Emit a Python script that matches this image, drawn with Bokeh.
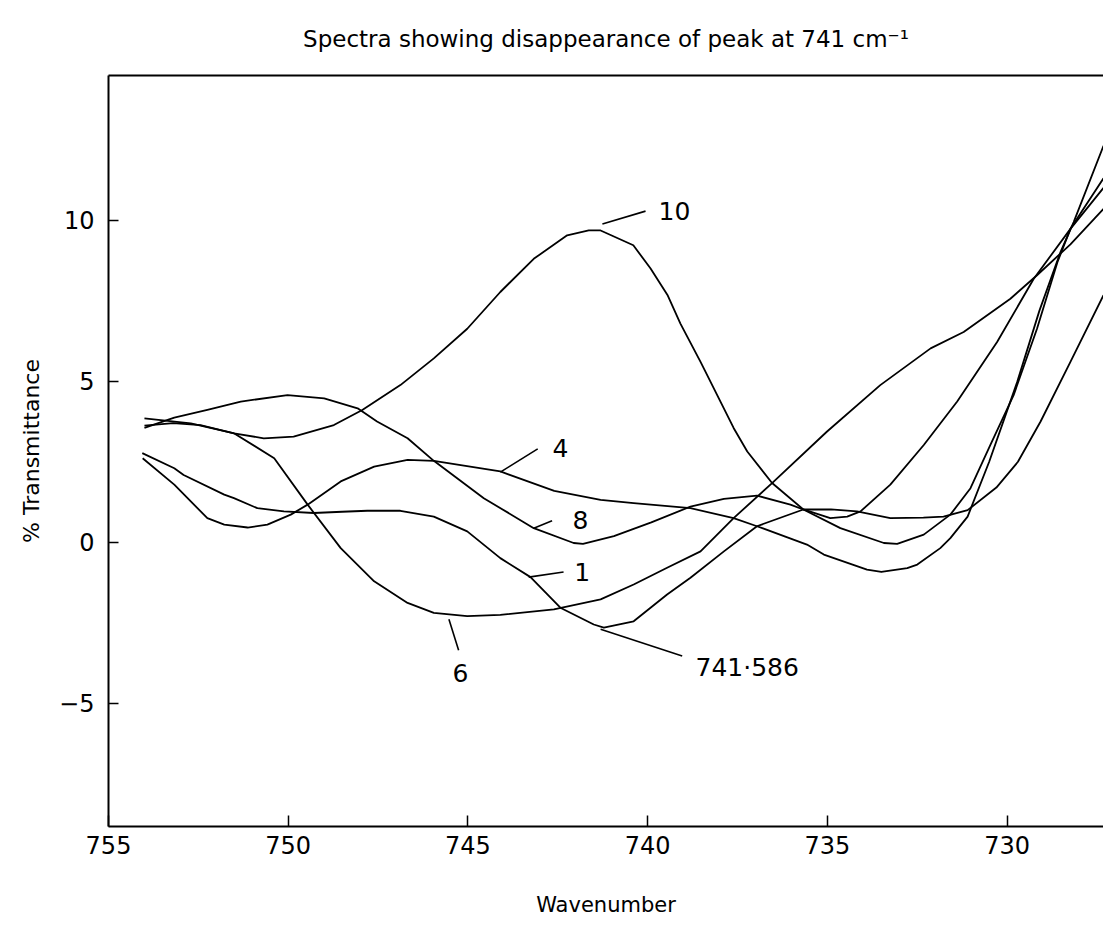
from bokeh.plotting import figure
from bokeh.models import Range1d, LinearAxis, FixedTicker
from bokeh.core.properties import value
from bokeh.embed import file_html
from bokeh.resources import INLINE

FONT = "DejaVu Sans"

# ---- data (wavenumber, % transmittance) ----
wn_1 = [754.06, 753.17, 752.91, 751.78, 751.51, 750.86, 750.12, 749.29, 748.5, 747.80, 746.88,
        745.95, 745.02, 744.10, 743.26, 742.43, 741.5, 741.22, 740.39, 739.46, 738.81, 737.88,
        736.96, 735.67, 734.9, 734.18, 733.25, 732.33, 731.77, 731.1, 730.3, 729.7, 729.07,
        728.24, 727.32]
t_1 = [2.77, 2.30, 2.09, 1.48, 1.37, 1.06, 0.96, 0.91, 0.95, 0.98, 0.98,
       0.80, 0.34, -0.49, -1.08, -2.03, -2.55, -2.65, -2.45, -1.62, -1.10, -0.28,
       0.50, 1.02, 1.02, 0.96, 0.75, 0.77, 0.80, 1.0, 1.7, 2.5, 3.75,
       5.6, 7.67]

wn_4 = [754.05, 753.17, 752.25, 751.78, 751.13, 750.58, 749.93, 749.46, 748.54, 747.61, 746.68,
        745.95, 744.10, 742.6, 741.31, 740.39, 738.81, 737.61, 736.96, 735.57, 735.1, 733.9,
        733.5, 732.78, 732.5, 731.86, 731.58, 731.1, 730.5, 729.72, 729.1, 728.52, 728.15, 727.32]
t_4 = [2.61, 1.79, 0.75, 0.55, 0.46, 0.55, 0.86, 1.17, 1.89, 2.35, 2.56,
       2.53, 2.2, 1.6, 1.32, 1.22, 1.06, 0.75, 0.50, -0.07, -0.38, -0.85,
       -0.92, -0.80, -0.69, -0.18, 0.13, 0.8, 2.5, 4.98, 7.2, 9.0, 9.94, 12.31]

wn_6 = [754.0, 752.71, 751.5, 750.39, 749.46, 748.54, 747.61, 746.68, 745.95, 745.02, 744.1,
        742.61, 741.31, 740.39, 739.46, 738.53, 737.61, 736.54, 735.01, 733.53, 732.13, 731.21,
        729.91, 729.17, 728.24, 727.32]
t_6 = [3.85, 3.69, 3.38, 2.61, 1.17, -0.18, -1.21, -1.88, -2.19, -2.29, -2.25,
       -2.08, -1.77, -1.31, -0.79, -0.28, 0.75, 1.84, 3.44, 4.88, 6.02, 6.53,
       7.56, 8.29, 9.25, 10.35]

wn_8 = [754.0, 753.17, 752.25, 751.32, 750.02, 749.0, 748.07, 747.53, 746.68, 745.95, 744.56,
        743.17, 742.06, 741.8, 740.94, 739.9, 738.81, 737.88, 736.96, 736.03, 735.67, 734.92,
        734.45, 734.08, 733.25, 732.32, 731.39, 730.28, 729.26, 728.24, 727.32]
t_8 = [3.55, 3.87, 4.11, 4.37, 4.57, 4.47, 4.16, 3.75, 3.23, 2.53, 1.37,
       0.44, -0.02, -0.05, 0.19, 0.62, 1.11, 1.35, 1.45, 1.17, 1.02, 0.75,
       0.80, 0.96, 1.79, 3.02, 4.37, 6.22, 8.18, 9.73, 11.0]

wn_10 = [754.0, 753.2, 752.44, 751.51, 750.68, 749.85, 748.73, 747.94, 746.88, 745.95, 745.02,
         744.10, 743.17, 742.24, 741.64, 741.31, 740.40, 739.92, 739.45, 739.09, 738.53, 737.61,
         737.23, 736.54, 735.67, 734.64, 733.43, 733.06, 732.32, 731.58, 731.02, 730.47, 729.82,
         729.17, 728.60, 728.24, 727.32]
t_10 = [3.62, 3.70, 3.64, 3.38, 3.23, 3.28, 3.64, 4.11, 4.88, 5.71, 6.63,
        7.77, 8.80, 9.53, 9.68, 9.68, 9.22, 8.5, 7.68, 6.79, 5.60, 3.55,
        2.82, 1.84, 1.02, 0.44, -0.02, -0.05, 0.24, 0.86, 1.68, 3.02, 4.57,
        6.63, 8.70, 9.73, 11.3]

series = [(wn_1, t_1), (wn_4, t_4), (wn_6, t_6), (wn_8, t_8), (wn_10, t_10)]

x_ticks = [755, 750, 745, 740, 735, 730]
y_ticks = [-5, 0, 5, 10]

# curve labels (text, anchor at the vertical middle) and leader lines
lab_text = ["10", "4", "8", "1", "741\u00b7586"]
lab_x = [739.70, 742.65, 742.09, 742.04, 738.67]
lab_y = [10.29, 2.94, 0.68, -0.91, -3.90]
lead_x0 = [741.26, 744.10, 743.17, 743.31, 741.31, 745.53]
lead_y0 = [9.88, 2.18, 0.44, -1.08, -2.70, -2.39]
lead_x1 = [740.06, 743.06, 742.66, 742.34, 739.04, 745.26]
lead_y1 = [10.28, 2.90, 0.67, -0.92, -3.53, -3.35]

p = figure(width=1103, height=925,
           x_range=Range1d(755, 727.32), y_range=Range1d(-8.82, 14.49),
           output_backend="svg", toolbar_location=None,
           min_border_left=108, min_border_right=0, min_border_top=73, min_border_bottom=99)

p.title.text = "Spectra showing disappearance of peak at 741 cm\u207b\u00b9"
p.title.align = "center"
p.title.text_font = FONT
p.title.text_font_size = "23px"
p.title.text_font_style = "normal"
p.title.text_color = "black"
p.title.standoff = 47

p.xgrid.visible = False
p.ygrid.visible = False
p.outline_line_color = None
p.background_fill_color = "white"
p.border_fill_color = "white"

for ax, ticks in ((p.xaxis[0], x_ticks), (p.yaxis[0], y_ticks)):
    ax.ticker = FixedTicker(ticks=ticks)
    ax.axis_line_width = 2
    ax.axis_line_color = "black"
    ax.major_tick_line_color = "black"
    ax.major_tick_line_width = 1.5
    ax.major_tick_out = 0
    ax.minor_tick_line_color = None
    ax.major_label_text_font = FONT
    ax.major_label_text_font_size = "24px"
    ax.major_label_text_color = "black"
    ax.axis_label_text_font = FONT
    ax.axis_label_text_font_style = "normal"
    ax.axis_label_text_color = "black"

p.xaxis.major_tick_in = 11
p.xaxis.major_label_standoff = 9
p.xaxis.axis_label = "Wavenumber"
p.xaxis.axis_label_text_font_size = "21px"
p.xaxis.axis_label_standoff = 36

p.yaxis.major_tick_in = 10
p.yaxis.major_label_standoff = 14
p.yaxis.major_label_overrides = {-5: "\u22125"}
p.yaxis.axis_label = "% Transmittance"
p.yaxis.axis_label_text_font_size = "22px"
p.yaxis.axis_label_standoff = 12

top = LinearAxis(ticker=FixedTicker(ticks=[]), axis_line_width=2, axis_line_color="black",
                 major_tick_in=0, major_tick_out=0, minor_tick_in=0, minor_tick_out=0,
                 major_label_text_font_size="0px", major_label_standoff=0)
p.add_layout(top, "above")

for wn, t in series:
    p.line(wn, t, line_color="black", line_width=1.8, line_join="round")

p.segment(lead_x0, lead_y0, lead_x1, lead_y1, line_color="black", line_width=1.6)
p.text(lab_x, lab_y, text=lab_text, text_font=value(FONT), text_font_size="25px",
       text_align="left", text_baseline="middle", text_color="black")
p.text([745.21], [-4.07], text=["6"], text_font=value(FONT), text_font_size="25px",
       text_align="center", text_baseline="middle", text_color="black")

open("out.html", "w").write(file_html(p, INLINE))
